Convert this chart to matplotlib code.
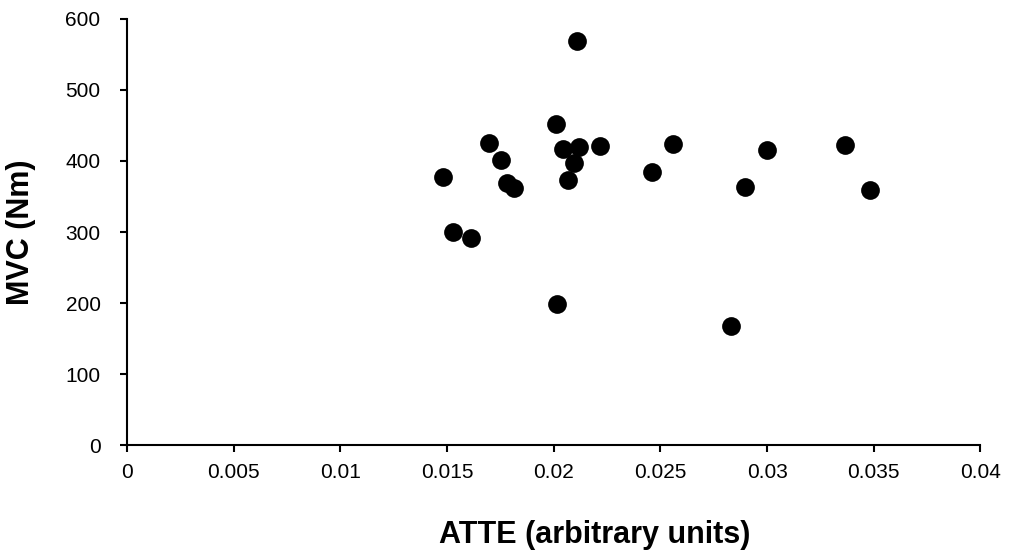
import matplotlib
matplotlib.use("Agg")
import matplotlib.pyplot as plt

# ATTE vs MVC values
atte = [0.02111, 0.02009, 0.01697, 0.01753, 0.01479, 0.01781, 0.01814,
        0.02044, 0.02119, 0.02217, 0.02094, 0.02067, 0.02559, 0.02462,
        0.01528, 0.01611, 0.02017, 0.03001, 0.03364, 0.02895, 0.03483,
        0.02832]
mvc = [569, 452, 426, 402, 377, 369, 362,
       417, 420, 421, 397, 373, 424, 385,
       300, 291, 198, 415, 422, 364, 359,
       168]

xticks = [0, 0.005, 0.01, 0.015, 0.02, 0.025, 0.03, 0.035, 0.04]
xticklabels = ["0", "0.005", "0.01", "0.015", "0.02", "0.025", "0.03", "0.035", "0.04"]
yticks = [0, 100, 200, 300, 400, 500, 600]

plt.rcParams['font.family'] = ['Liberation Sans', 'DejaVu Sans']

fig = plt.figure(figsize=(10.11, 5.52), dpi=100)
ax = fig.add_axes([0.1256, 0.1938, 0.8442, 0.7718])

ax.plot(atte, mvc, 'o', color='black', markersize=13.5, markeredgewidth=0)

ax.set_xlim(0, 0.04)
ax.set_ylim(0, 600)
ax.set_xticks(xticks)
ax.set_xticklabels(xticklabels)
ax.set_yticks(yticks)

for s in ['top', 'right']:
    ax.spines[s].set_visible(False)
for s in ['left', 'bottom']:
    ax.spines[s].set_linewidth(1.5)
ax.tick_params(axis='x', direction='out', length=5, width=1.5, labelsize=15, pad=8)
ax.tick_params(axis='y', direction='out', length=5, width=1.5, labelsize=15, pad=14)

fig.text(0.5887, 1 - 535/552, "ATTE (arbitrary units)", ha='center', va='center',
         fontsize=22, fontweight='bold')
fig.text(21/1011, 1 - 232/552, "MVC (Nm)", ha='center', va='center', rotation=90,
         fontsize=22, fontweight='bold')

fig.savefig("out.png", dpi=100)
